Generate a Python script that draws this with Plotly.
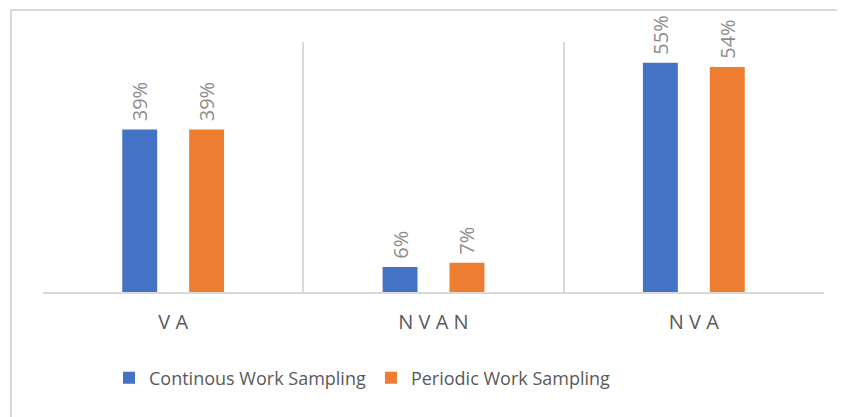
import plotly.graph_objects as go

categories = ["V A", "N V A N", "N V A"]
continuous = [39, 6, 55]
periodic = [39, 7, 54]
series_names = ["Continous Work Sampling", "Periodic Work Sampling"]
colors = ["#4472C4", "#ED7D31"]

OFF = 8  # page body margin
W, H = 845, 417 - OFF
L, T = 43 - OFF, 42 - OFF
R = W - (824 - OFF)
B = H - (292 - OFF)
pw, ph = W - L - R, H - T - B

def px_x(x):
    return (x - OFF - L) / pw

def px_y(y):
    return (H - B - (y - OFF)) / ph

fig = go.Figure()
for name, vals, col in zip(series_names, [continuous, periodic], colors):
    fig.add_trace(go.Bar(
        x=categories, y=vals, name=name,
        marker=dict(color=col, line=dict(width=0)),
        text=[f" {v}%" for v in vals],
        textposition="outside", textangle=-90,
        textfont=dict(family="Open Sans", size=20, color="#8c8c8c"),
        cliponaxis=False, constraintext="none",
    ))

fig.update_layout(
    width=W, height=H,
    margin=dict(l=L, r=R, t=T, b=B),
    paper_bgcolor="white", plot_bgcolor="white",
    barmode="group", bargap=0.486, bargroupgap=0.478,
    font=dict(family="Open Sans", color="#595959"),
    showlegend=True,
    legend=dict(orientation="h", x=px_x(109), xanchor="left",
                y=px_y(378), yanchor="middle",
                font=dict(family="Open Sans", size=18, color="#595959"),
                bgcolor="rgba(0,0,0,0)"),
    xaxis=dict(type="category", tickson="boundaries", ticks="",
               showgrid=True, gridcolor="#d9d9d9", gridwidth=2,
               showline=True, linecolor="#d9d9d9", linewidth=2,
               tickfont=dict(family="Open Sans", size=20, color="#595959"),
               ticklabelstandoff=11, range=[-0.5, 2.5]),
    yaxis=dict(range=[0, 60], showgrid=False, showticklabels=False,
               zeroline=False, showline=False),
    shapes=[
        dict(type="line", xref="paper", yref="paper",
             x0=px_x(10), x1=px_x(860), y0=px_y(10), y1=px_y(10),
             line=dict(color="#d9d9d9", width=2)),
        dict(type="line", xref="paper", yref="paper",
             x0=px_x(11), x1=px_x(11), y0=px_y(10), y1=px_y(420),
             line=dict(color="#d9d9d9", width=2)),
    ],
)

fig.write_html("out.html")
